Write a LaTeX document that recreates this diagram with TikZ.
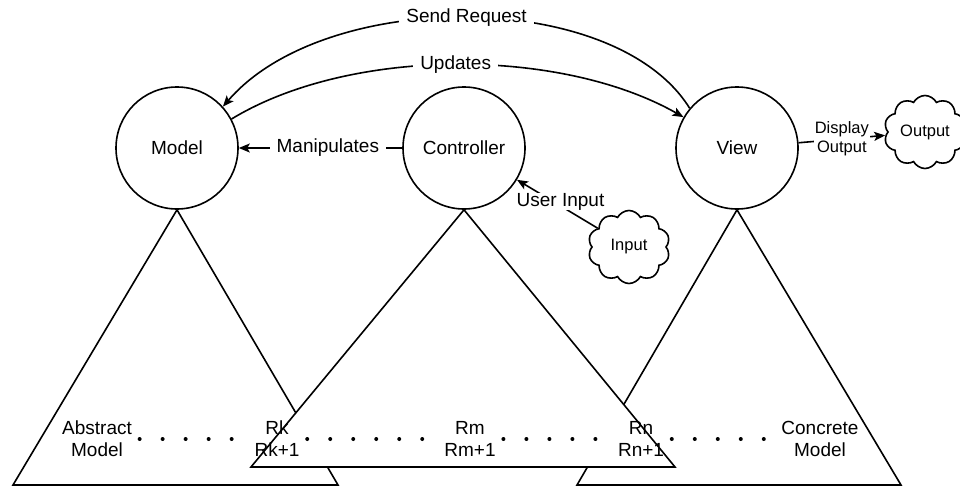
\documentclass[tikz,border=0pt]{standalone}
\usepackage{fontspec}
\setmainfont{Liberation Sans}
\usetikzlibrary{shapes.symbols,arrows.meta,calc}
\newcommand\mvcfont{\fontsize{19}{22}\selectfont}
\newcommand\mvcsmall{\fontsize{16.5}{19}\selectfont}
\begin{document}
\begin{tikzpicture}[x=1pt,y=-1pt,line width=1.6pt,
  ent/.style={circle,draw,fill=white,minimum size=122pt,inner sep=0pt,font=\mvcfont},
  tri/.style={draw,fill=white,line join=miter},
  cloudbox/.style={cloud,draw,fill=white,cloud puffs=10,cloud puff arc=125,aspect=1.15,minimum width=82pt,minimum height=73pt,inner sep=0pt,font=\mvcsmall},
  arr/.style={-{Stealth[length=11pt,width=9pt,inset=2.5pt]}},
  lbl/.style={fill=white,inner xsep=7pt,inner ysep=1pt,font=\mvcfont},
  lbltight/.style={fill=white,inner sep=0pt,font=\mvcfont},
  lblsmall/.style={fill=white,inner sep=1pt,align=center,font=\mvcsmall},
  txt/.style={inner sep=0pt,align=center,font=\mvcfont},
  dotl/.style={line width=4pt,line cap=round,dash pattern=on 0pt off 23pt}
]
\useasboundingbox (0,0) rectangle (960,487);
\clip (0,0) rectangle (960,487);
% entities
\node[ent] (model) at (177,148) {Model};
\node[ent] (ctrl) at (464,148) {Controller};
\node[ent] (view) at (737,148) {View};
% hierarchy triangles
\draw[tri] (model.south) -- (13,485) -- (338,485) -- cycle;
\draw[tri] (view.south) -- (577,485) -- (901,485) -- cycle;
\draw[tri] (ctrl.south) -- (251,467) -- (675,467) -- cycle;
% clouds
\node[cloudbox] (input) at (629,247) {Input};
\node[cloudbox] (output) at (925,132) {Output};
% connectors
\draw[arr] (ctrl) -- node[lbl,pos=0.455] {Manipulates} (model);
\draw[arr] (input) -- node[lbltight,pos=0.46,yshift=4pt] {User Input} (ctrl);
\draw[arr] (view) -- node[lblsmall] {Display\\Output} (output);
\draw[arr] (view.140) .. controls (615,-12) and (325,-12) .. node[lbl] {Send Request} (model.42);
\draw[arr] (model.28) .. controls (350,47) and (560,47) .. node[lbl] {Updates} (view.150);
% layer labels
\node[txt] (absm) at (97,439) {Abstract\\Model};
\node[txt] (rk) at (277,439) {Rk\\Rk+1};
\node[txt] (rm) at (470,439) {Rm\\Rm+1};
\node[txt] (rn) at (641,439) {Rn\\Rn+1};
\node[txt] (conc) at (820,439) {Concrete\\Model};
\draw[dotl] ([xshift=7pt]absm.east) -- ([xshift=-7pt]rk.west);
\draw[dotl] ([xshift=7pt]rk.east) -- ([xshift=-7pt]rm.west);
\draw[dotl] ([xshift=7pt]rm.east) -- ([xshift=-7pt]rn.west);
\draw[dotl] ([xshift=7pt]rn.east) -- ([xshift=-7pt]conc.west);
\end{tikzpicture}
\end{document}
